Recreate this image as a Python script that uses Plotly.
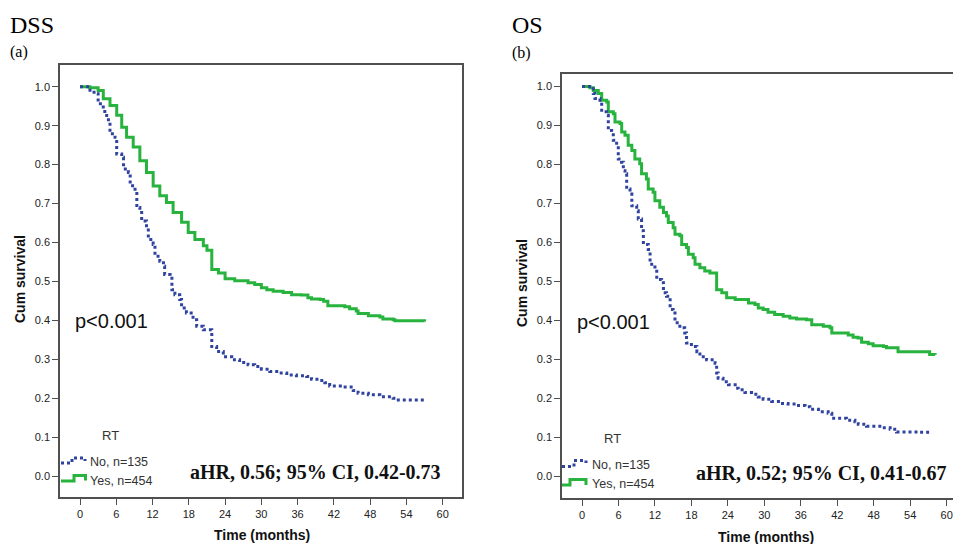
import plotly.graph_objects as go

W, H = 953, 544

# ---------------- data ----------------
# DSS, RT = Yes (n=454)
dss_yes_t = [0, 1.65, 3.0, 3.85, 4.96, 6.07, 6.9, 7.7, 8.8, 9.9, 11.0, 12.1, 13.2, 14.3, 15.4,
             16.8, 17.9, 19.0, 20.4, 21.0, 21.8, 22.9, 24.0, 25.6, 27.8, 28.9, 30.0, 30.9, 31.95,
             33.6, 35.0, 36.6, 37.7, 38.3, 39.7, 40.3, 41.0, 43.8, 44.6, 45.7, 46.0, 47.7, 49.6,
             50.1, 51.8, 52.1, 57.0]
dss_yes_s = [1.0, 0.997, 0.99, 0.969, 0.952, 0.927, 0.896, 0.870, 0.845, 0.810, 0.780, 0.745, 0.720,
             0.703, 0.677, 0.652, 0.626, 0.608, 0.592, 0.580, 0.531, 0.522, 0.507, 0.502, 0.497,
             0.492, 0.484, 0.479, 0.475, 0.472, 0.466, 0.465, 0.458, 0.455, 0.454, 0.449, 0.438,
             0.435, 0.430, 0.424, 0.418, 0.412, 0.409, 0.404, 0.402, 0.399, 0.397]

# DSS, RT = No (n=135)
dss_no_t = [0, 1.65, 2.75, 3.0, 3.85, 4.1, 4.7, 4.96, 5.8, 6.07, 6.9, 7.2, 8.0, 8.3, 9.1, 9.4, 9.9,
            10.2, 11.0, 11.3, 12.1, 12.4, 13.2, 13.8, 14.0, 14.9, 15.2, 15.7, 16.5, 16.8, 17.6,
            18.7, 19.3, 20.4, 21.8, 22.6, 23.7, 25.1, 26.4, 27.8, 28.9, 30.0, 31.4, 32.8, 34.2,
            35.8, 37.5, 38.3, 39.7, 40.5, 41.3, 43.5, 45.2, 46.0, 47.7, 49.6, 51.8, 52.3, 57.0]
dss_no_s = [1.0, 0.986, 0.982, 0.956, 0.948, 0.926, 0.909, 0.879, 0.870, 0.827, 0.819, 0.789, 0.780,
            0.746, 0.737, 0.690, 0.677, 0.655, 0.643, 0.608, 0.595, 0.565, 0.552, 0.539, 0.518,
            0.514, 0.479, 0.466, 0.454, 0.432, 0.419, 0.402, 0.385, 0.376, 0.333, 0.320, 0.307,
            0.299, 0.292, 0.286, 0.282, 0.275, 0.269, 0.265, 0.260, 0.258, 0.256, 0.249, 0.246,
            0.240, 0.232, 0.229, 0.220, 0.213, 0.209, 0.204, 0.200, 0.196, 0.194]

# OS, RT = Yes (n=454)
os_yes_t = [0, 1.3, 1.86, 2.68, 3.24, 4.06, 4.33, 5.15, 5.43, 6.25, 6.53, 7.07, 7.6, 8.2, 8.7, 9.5,
            9.8, 10.6, 10.9, 11.7, 12.0, 12.8, 13.4, 13.9, 14.2, 15.0, 15.3, 16.1, 16.4, 17.2, 17.5,
            18.3, 18.6, 19.4, 20.2, 21.05, 22.15, 23.0, 23.8, 25.2, 27.4, 28.45, 29.0, 29.8, 30.6,
            31.7, 33.1, 34.2, 35.3, 36.95, 37.8, 39.7, 40.8, 41.1, 43.8, 44.6, 45.4, 46.0, 47.1,
            47.9, 49.6, 50.1, 52.0, 57.2, 58.1]
os_yes_s = [1.0, 0.997, 0.990, 0.982, 0.965, 0.960, 0.935, 0.930, 0.909, 0.905, 0.883, 0.875, 0.849,
            0.836, 0.814, 0.802, 0.776, 0.763, 0.737, 0.729, 0.707, 0.690, 0.677, 0.668, 0.651,
            0.638, 0.621, 0.617, 0.595, 0.587, 0.570, 0.561, 0.544, 0.535, 0.527, 0.522, 0.479,
            0.471, 0.458, 0.454, 0.445, 0.441, 0.432, 0.428, 0.421, 0.415, 0.411, 0.406, 0.404,
            0.402, 0.389, 0.385, 0.381, 0.368, 0.363, 0.357, 0.355, 0.344, 0.340, 0.335, 0.333,
            0.330, 0.320, 0.313, 0.312]

# OS, RT = No (n=135)
os_no_t = [0, 1.86, 2.14, 2.96, 3.24, 4.06, 4.33, 4.88, 5.15, 5.7, 5.97, 6.5, 6.8, 7.07, 7.35, 7.9,
           8.2, 9.0, 9.26, 9.8, 10.1, 10.9, 11.2, 12.0, 12.3, 13.1, 13.4, 13.9, 14.5, 15.0, 15.3,
           16.1, 16.9, 17.2, 18.0, 18.9, 19.4, 20.5, 21.9, 22.15, 22.4, 23.2, 24.1, 25.2, 25.7,
           26.8, 27.9, 29.0, 29.8, 31.2, 32.6, 33.9, 35.3, 36.7, 37.5, 38.9, 40.5, 41.1, 43.5,
           44.9, 45.45, 46.8, 49.0, 50.7, 51.75, 55.6, 57.2]
os_no_s = [1.0, 0.982, 0.969, 0.965, 0.935, 0.926, 0.887, 0.883, 0.862, 0.849, 0.814, 0.806, 0.784,
           0.776, 0.737, 0.724, 0.694, 0.681, 0.660, 0.630, 0.595, 0.582, 0.544, 0.531, 0.505,
           0.497, 0.471, 0.462, 0.428, 0.419, 0.394, 0.381, 0.368, 0.342, 0.333, 0.320, 0.307,
           0.299, 0.290, 0.265, 0.252, 0.243, 0.235, 0.226, 0.222, 0.215, 0.211, 0.204, 0.198,
           0.192, 0.187, 0.186, 0.182, 0.179, 0.172, 0.166, 0.162, 0.149, 0.144, 0.140, 0.134,
           0.129, 0.125, 0.121, 0.114, 0.113, 0.110]

x_tick_vals = [0, 6, 12, 18, 24, 30, 36, 42, 48, 54, 60]
y_tick_vals = [0.0, 0.1, 0.2, 0.3, 0.4, 0.5, 0.6, 0.7, 0.8, 0.9, 1.0]

legend_title = "RT"
legend_no = "No, n=135"
legend_yes = "Yes, n=454"
panel_titles = ["DSS", "OS"]
panel_letters = ["(a)", "(b)"]
hr_texts = ["aHR, 0.56; 95% CI, 0.42-0.73", "aHR, 0.52; 95% CI, 0.41-0.67"]
p_text = "p<0.001"

# ---------------- styling ----------------
GREEN = "#27b33e"
BLUE = "#2f439f"
AX = "#505050"
SANS = "Liberation Sans, Arial, sans-serif"
SERIF = "Liberation Serif, Times New Roman, serif"


def P(x):
    return x / W


def Q(y):
    return 1 - y / H


fig = go.Figure()

series = [
    (dss_yes_t, dss_yes_s, "x", "y", GREEN, "solid"),
    (dss_no_t, dss_no_s, "x", "y", BLUE, "3px,3px"),
    (os_yes_t, os_yes_s, "x2", "y2", GREEN, "solid"),
    (os_no_t, os_no_s, "x2", "y2", BLUE, "3px,3px"),
]
for t, s, xa, ya, col, dash in series:
    fig.add_trace(go.Scatter(x=t, y=s, mode="lines", xaxis=xa, yaxis=ya,
                             line=dict(shape="hv", color=col, width=3, dash=dash),
                             showlegend=False, hoverinfo="skip"))

axis_common = dict(ticks="outside", ticklen=6, tickwidth=1.3, tickcolor=AX,
                   showline=True, linecolor=AX, linewidth=1.6, showgrid=False,
                   zeroline=False, tickfont=dict(family=SANS, size=11, color="#222"))

fig.update_layout(
    width=W, height=H, margin=dict(l=0, r=0, t=0, b=0),
    paper_bgcolor="white", plot_bgcolor="white",
    xaxis=dict(domain=[P(60), P(462)], range=[-3.31, 63.19], tickvals=x_tick_vals,
               mirror=True, anchor="y", **axis_common),
    yaxis=dict(domain=[Q(497), Q(65)], range=[-0.0532, 1.0557], tickvals=y_tick_vals,
               tickformat=".1f", mirror=True, anchor="x", **axis_common),
    xaxis2=dict(domain=[P(562), 1.0], range=[-3.29, 61.04], tickvals=x_tick_vals,
                mirror=True, anchor="y2", **axis_common),
    yaxis2=dict(domain=[Q(498), Q(74)], range=[-0.0553, 1.032], tickvals=y_tick_vals,
                tickformat=".1f", mirror=False, anchor="x2", **axis_common),
)

ann = []


def text(x, y, s, size, family=SANS, color="black", xanchor="left", angle=0):
    ann.append(dict(x=P(x), y=Q(y), xref="paper", yref="paper", text=s, showarrow=False,
                    xanchor=xanchor, yanchor="middle", textangle=angle,
                    font=dict(family=family, size=size, color=color)))


# panel layout offsets (left, right)
panels = [
    dict(x0=8, title_y=25, letter_y=52, ylab=(20, 279), xlab=(262, 535), p=(73, 321),
         hr=(188, 472), rt=(100, 435), no=(88, 462), yes=(88, 481),
         gb=[(61, 463), (72, 463), (72, 458), (85, 458), (85, 461)],
         gg=[(61, 481), (74, 481), (74, 475.5), (85.5, 475.5), (85.5, 480.5)]),
    dict(x0=510, title_y=25, letter_y=53, ylab=(522, 283), xlab=(766, 537), p=(575, 322),
         hr=(694, 473), rt=(602, 438), no=(590, 464.5), yes=(590, 483.5),
         gb=[(562, 466.5), (574, 466.5), (574, 460.5), (586, 460.5), (586, 463)],
         gg=[(562, 485), (570, 485), (570, 479.5), (586, 479.5), (586, 485)]),
]

shapes = []
for i, pn in enumerate(panels):
    text(pn["x0"], pn["title_y"], panel_titles[i], 24, SERIF)
    text(pn["x0"], pn["letter_y"], panel_letters[i], 16, SERIF)
    text(pn["ylab"][0], pn["ylab"][1], "<b>Cum survival</b>", 14, SANS, "#111", "center", -90)
    text(pn["xlab"][0], pn["xlab"][1], "<b>Time (months)</b>", 14, SANS, "#111", "center")
    text(pn["p"][0], pn["p"][1], p_text, 20, SANS, "#111")
    text(pn["hr"][0], pn["hr"][1], "<b>" + hr_texts[i] + "</b>", 20, SERIF, "#111")
    text(pn["rt"][0], pn["rt"][1], legend_title, 13, SANS, "#333")
    text(pn["no"][0], pn["no"][1], legend_no, 12.5, SANS, "#333")
    text(pn["yes"][0], pn["yes"][1], legend_yes, 12.5, SANS, "#333")
    for pts, col, dash in [(pn["gb"], BLUE, "dot"), (pn["gg"], GREEN, "solid")]:
        path = "M " + " L ".join(f"{P(a):.5f},{Q(b):.5f}" for a, b in pts)
        shapes.append(dict(type="path", xref="paper", yref="paper", path=path,
                           line=dict(color=col, width=3, dash=dash)))

fig.update_layout(annotations=ann, shapes=shapes)

fig.write_html("out.html", config={"displayModeBar": False},
               post_script="document.body.style.margin='0';document.body.style.overflow='hidden';")
